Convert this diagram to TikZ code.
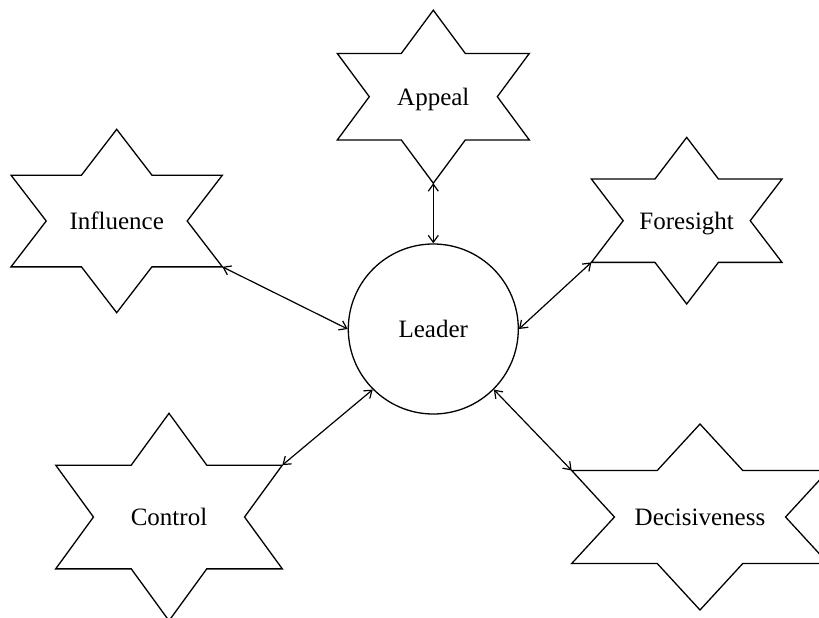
\documentclass[tikz,border=0pt]{standalone}
\usepackage{fontspec}
\setmainfont{Liberation Serif}
\usetikzlibrary{arrows.meta}
\tikzset{
  lbl/.style={inner sep=0pt, text height=16.6pt, text depth=0pt, font=\fontsize{25}{30}\selectfont},
  starline/.style={draw=black, line width=1.3pt, line join=miter},
  leaderbox/.style={circle, draw=black, line width=1.3pt, minimum size=170pt, inner sep=0pt, text height=16.6pt, text depth=0pt, font=\fontsize{25}{30}\selectfont},
  link/.style={line width=1.2pt, {Straight Barb[length=7pt,width=10pt]}-{Straight Barb[length=7pt,width=10pt]}}
}
\newcommand\hexstar[6]{%
  \draw[starline] (#2,#3-#5) coordinate (#1-n) -- (#2+#4/3,#3-#5/2) -- (#2+#4,#3-#5/2) coordinate (#1-ne)
   -- (#2+2*#4/3,#3) -- (#2+#4,#3+#5/2) coordinate (#1-se) -- (#2+#4/3,#3+#5/2)
   -- (#2,#3+#5) coordinate (#1-s) -- (#2-#4/3,#3+#5/2) -- (#2-#4,#3+#5/2) coordinate (#1-sw)
   -- (#2-2*#4/3,#3) -- (#2-#4,#3-#5/2) coordinate (#1-nw) -- (#2-#4/3,#3-#5/2) -- cycle;
  \node[lbl] (#1) at (#2,#3) {#6};
}
\begin{document}
\begin{tikzpicture}[x=1pt,y=-1pt]
\useasboundingbox (0,0) rectangle (819,618);
\node[leaderbox] (leader) at (433.3,329) {Leader};
\hexstar{appeal}{433.3}{96.7}{96}{86.5}{Appeal}
\hexstar{influence}{116.7}{221}{105.7}{91.7}{Influence}
\hexstar{foresight}{686.7}{220.7}{95.3}{83.3}{Foresight}
\hexstar{control}{169}{517}{113.3}{103.7}{Control}
\hexstar{decisive}{700}{517}{128.3}{93}{Decisiveness}
\draw[link] (appeal-s) -- (leader.north);
\draw[link] (influence-se) -- (leader.west);
\draw[link] (foresight-sw) -- (leader.east);
\draw[link] (control-ne) -- (leader.south west);
\draw[link] (decisive-nw) -- (leader.south east);
\end{tikzpicture}
\end{document}
